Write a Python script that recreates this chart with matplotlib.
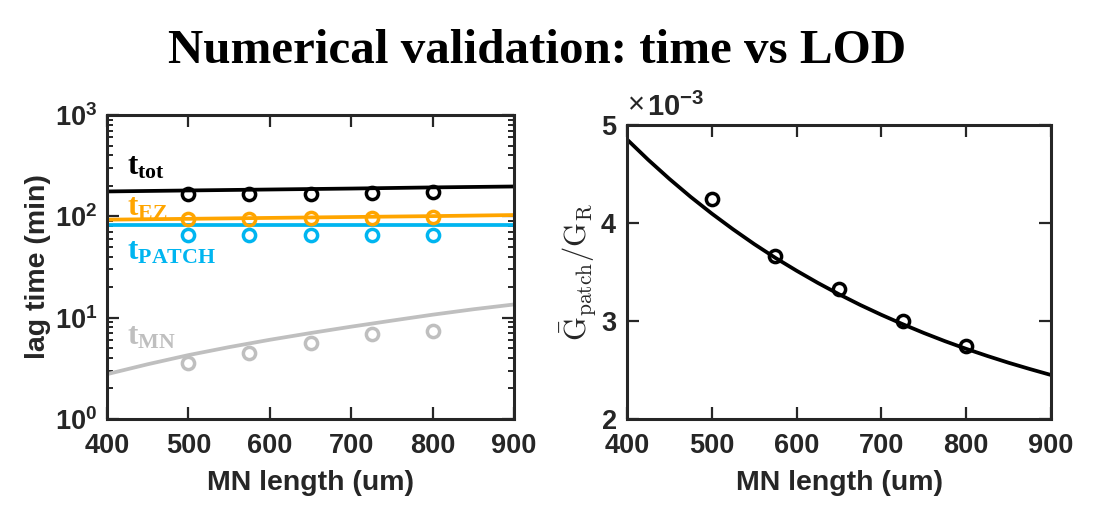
import matplotlib
matplotlib.use('Agg')
import matplotlib.pyplot as plt
from matplotlib.ticker import LogLocator, NullFormatter, ScalarFormatter

# ---------------- data ----------------
mn_len_sim = [500, 575, 650, 725, 800]
t_tot_sim = [166, 167, 167, 169, 172]
t_ez_sim = [94.1, 94.8, 95.5, 97.0, 98.5]
t_patch_sim = [66, 66, 66, 66, 66]
t_mn_sim = [3.56, 4.53, 5.68, 6.86, 7.39]

mn_len_model = [400, 500, 600, 700, 800, 900]
t_tot_model = [176, 180, 184, 188, 193, 197]
t_ez_model = [92.7, 94.5, 96.5, 98.5, 100.5, 103]
t_patch_model = [81.5, 81.5, 81.5, 81.5, 81.5, 81.5]

mn_len_mn_model = [400, 450, 500, 550, 600, 650, 700, 750, 800, 850, 900]
t_mn_model = [2.77, 3.47, 4.27, 5.12, 6.05, 7.05, 8.15, 9.35, 10.7, 12.1, 13.5]

g_len_sim = [500, 575, 650, 725, 800]
g_ratio_sim = [4.249e-3, 3.666e-3, 3.324e-3, 3.0e-3, 2.747e-3]
g_len_model = [400, 425, 450, 475, 500, 525, 550, 575, 600, 625, 650,
               675, 700, 725, 750, 775, 800, 825, 850, 875, 900]
g_ratio_model = [4.853e-3, 4.645e-3, 4.450e-3, 4.267e-3, 4.096e-3, 3.936e-3,
                 3.785e-3, 3.644e-3, 3.513e-3, 3.389e-3, 3.273e-3, 3.164e-3,
                 3.063e-3, 2.968e-3, 2.878e-3, 2.794e-3, 2.716e-3, 2.643e-3,
                 2.574e-3, 2.510e-3, 2.449e-3]

x_ticks = [400, 500, 600, 700, 800, 900]
g_ticks = [2e-3, 3e-3, 4e-3, 5e-3]

labels = ['tot', 'EZ', 'PATCH', 'MN']
label_pos = [(424, 256), (424, 103), (424, 37.2), (424, 5.38)]

# ---------------- style ----------------
plt.rcParams['font.family'] = ['Liberation Sans', 'DejaVu Sans']
plt.rcParams['font.weight'] = 'bold'

c_black = '#000000'
c_orange = '#FFA500'
c_blue = '#00B5F0'
c_gray = '#BFBFBF'
colors = [c_black, c_orange, c_blue, c_gray]
spine_c = '#262626'

fig = plt.figure(figsize=(11.02, 5.17), dpi=100)
ax1 = fig.add_axes([107/1102, 1-419/517, 407/1102, 304/517])
ax2 = fig.add_axes([627/1102, 1-419/517, 424/1102, 294/517])

for ax in (ax1, ax2):
    for s in ax.spines.values():
        s.set_linewidth(2.2)
        s.set_color(spine_c)
    ax.tick_params(which='major', direction='in', top=True, right=True,
                   length=8.6, width=1.6, color=spine_c, labelsize=19.5, pad=10,
                   labelcolor='#262626')
    ax.tick_params(which='minor', direction='in', top=True, right=True,
                   length=4.5, width=1.4, color=spine_c)

lw = 2.7
ms = 8.8
mew = 2.5

# ---------------- left panel ----------------
ax1.set_yscale('log')
ax1.plot(mn_len_model, t_tot_model, color=c_black, lw=lw)
ax1.plot(mn_len_model, t_ez_model, color=c_orange, lw=lw)
ax1.plot(mn_len_model, t_patch_model, color=c_blue, lw=lw)
ax1.plot(mn_len_mn_model, t_mn_model, color=c_gray, lw=lw)
for yv, c in zip([t_tot_sim, t_ez_sim, t_patch_sim, t_mn_sim], colors):
    ax1.plot(mn_len_sim, yv, 'o', mfc='none', mec=c, ms=ms, mew=mew)

ax1.set_xlim(400, 900)
ax1.set_ylim(1, 1000)
ax1.set_xticks(x_ticks)
ax1.yaxis.set_major_locator(LogLocator(base=10, numticks=10))
ax1.yaxis.set_minor_locator(LogLocator(base=10, subs=range(2, 10), numticks=10))
ax1.yaxis.set_minor_formatter(NullFormatter())
ax1.tick_params(axis='y', pad=7)
ax1.set_xlabel('MN length (um)', fontsize=20.5, fontweight='bold', color='#262626', labelpad=8)
ax1.set_ylabel('lag time (min)', fontsize=20.5, fontweight='bold', color='#262626', labelpad=3)

for lab, (xp, yp), c in zip(labels, label_pos, colors):
    ax1.text(xp, yp, r'$\mathdefault{t_{%s}}$' % lab, color=c, fontsize=22.5,
             family='Liberation Serif', fontweight='bold', ha='left', va='baseline')

# ---------------- right panel ----------------
ax2.plot(g_len_model, g_ratio_model, color=c_black, lw=lw)
ax2.plot(g_len_sim, g_ratio_sim, 'o', mfc='none', mec=c_black, ms=ms, mew=mew)
ax2.set_xlim(400, 900)
ax2.set_ylim(2e-3, 5e-3)
ax2.set_xticks(x_ticks)
ax2.set_yticks(g_ticks)
fmt = ScalarFormatter(useMathText=True)
fmt.set_powerlimits((0, 0))
ax2.yaxis.set_major_formatter(fmt)
ax2.yaxis.get_offset_text().set_visible(False)
ax2.tick_params(axis='y', pad=7)
ax2.set_xlabel('MN length (um)', fontsize=20.5, fontweight='bold', color='#262626', labelpad=8)
ax2.set_ylabel(r'$\bar{\mathrm{G}}_{\mathrm{patch}}/\mathrm{G}_{\mathrm{R}}$',
               fontsize=22, math_fontfamily='cm', fontweight='normal', color='#262626', labelpad=2)

# exponent label (x10^-3) above the right axes
ax2.text(0.002, 1.018, '\u00d7', transform=ax2.transAxes, fontsize=21, fontweight='normal',
         color='#262626', ha='left', va='bottom')
ax2.text(0.048, 1.010, r'$\mathdefault{10^{-3}}$', transform=ax2.transAxes, fontsize=21,
         fontweight='bold', color='#262626', ha='left', va='bottom')

fig.text(537/1102, 1-63/517, 'Numerical validation: time vs LOD', ha='center', va='baseline',
         fontsize=35.3, family='Liberation Serif', fontweight='bold')

fig.savefig('out.png', dpi=100)
